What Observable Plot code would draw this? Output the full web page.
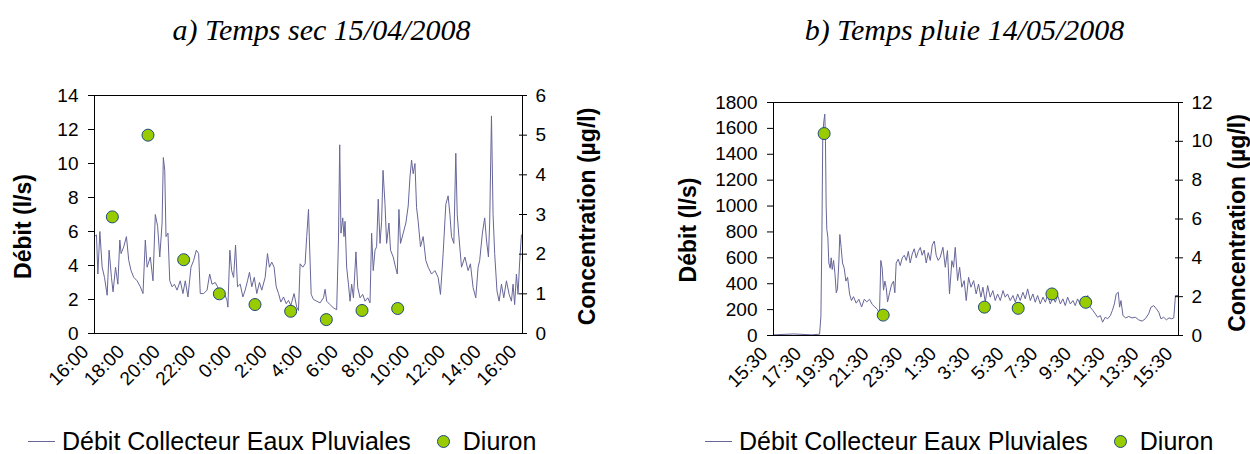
<!DOCTYPE html>
<html>
<head>
<meta charset="utf-8">
<script src="https://cdn.jsdelivr.net/npm/d3@7"></script>
<script src="https://cdn.jsdelivr.net/npm/@observablehq/plot@0.6"></script>
<style>
  body { margin: 0; background: #fff; }
  #wrap { position: relative; width: 1250px; height: 454px; overflow: hidden; }
  .panel { position: absolute; top: 0; width: 625px; height: 454px; }
  .title { position: absolute; top: 0; left: 0; width: 625px; height: 60px; line-height: 60px;
           font-family: "Liberation Serif", "Times New Roman", serif; font-style: italic; font-size: 30px;
           text-align: center; color: #000; }
  .chart { position: absolute; top: 60px; left: 0; }
  .legend { position: absolute; top: 427px; height: 28px; line-height: 28px; white-space: nowrap;
            font-family: "Liberation Sans", Arial, sans-serif; font-size: 25px; color: #000;
            display: flex; align-items: center; }
  .sw { display: inline-block; width: 27px; height: 0; border-top: 1.5px solid #666699; margin-right: 7px; }
  .dt { display: inline-block; width: 11px; height: 11px; border-radius: 50%; background: #99cc00;
        border: 1px solid #1f497d; margin: 0 13px 0 26px; }
</style>
</head>
<body>
<div id="wrap">
  <div class="panel" id="pa" style="left:0">
    <div class="title" style="transform:translateX(9px)">a) Temps sec 15/04/2008</div>
    <div class="chart" id="ca"></div>
    <div class="legend" style="left:28px"><span class="sw"></span><span>Débit Collecteur Eaux Pluviales</span><span class="dt"></span><span>Diuron</span></div>
  </div>
  <div class="panel" id="pb" style="left:625px">
    <div class="title" style="transform:translateX(27px)">b) Temps pluie 14/05/2008</div>
    <div class="chart" id="cb"></div>
    <div class="legend" style="left:80px"><span class="sw"></span><span>Débit Collecteur Eaux Pluviales</span><span class="dt"></span><span>Diuron</span></div>
  </div>
</div>
<script>
// ---------- Panel a: dry weather 15/04/2008 (hours since 16:00) ----------
const hoursA = [0,0.11,0.19,0.30,0.43,0.56,0.71,0.82,0.95,1.04,1.18,1.31,1.42,1.49,1.64,1.79,1.92,2.05,2.20,2.39,2.57,2.72,2.85,2.95,3.13,3.28,3.41,3.54,3.66,3.79,3.86,3.94,4.01,4.12,4.22,4.35,4.48,4.63,4.81,4.96,5.09,5.24,5.41,5.56,5.71,5.84,5.93,6.12,6.31,6.46,6.59,6.77,6.90,7.01,7.15,7.28,7.43,7.48,7.59,7.69,7.80,7.91,8.02,8.17,8.32,8.45,8.58,8.69,8.82,8.96,9.10,9.25,9.38,9.57,9.70,9.81,9.94,10.07,10.19,10.32,10.45,10.60,10.75,10.88,11.01,11.19,11.34,11.44,
  11.53,11.68,11.81,11.90,12.00,12.05,12.15,12.28,12.46,12.65,12.84,12.93,13.02,13.21,13.40,13.58,13.68,13.75,13.82,13.92,13.99,14.05,14.14,14.24,14.33,14.42,14.52,14.66,14.76,14.89,15.04,15.17,15.32,15.45,15.54,15.63,15.73,15.82,15.91,16.01,16.10,16.18,16.29,16.38,16.51,16.60,16.75,16.88,16.98,17.07,17.16,17.31,17.46,17.59,17.69,17.78,17.87,17.97,18.06,18.15,18.28,18.43,18.58,18.71,18.90,19.09,19.27,19.40,19.55,19.70,19.83,19.93,20.02,20.15,20.26,20.34,20.45,20.58,20.77,20.95,21.08,21.23,21.38,21.51,21.60,21.75,21.88,21.98,22.09,22.16,22.26,22.35,22.44,22.57,22.69,22.82,22.95,23.10,23.25,23.38,23.47,23.56,23.66,23.75,23.84,23.94];
const debitA = [5.7,5.8,3.5,6.0,3.9,3.3,2.25,4.9,3.3,2.45,3.9,2.9,5.5,4.7,5.1,5.7,4.3,3.7,3.3,3.1,2.75,2.35,5.5,3.9,4.5,3.1,7.0,6.3,4.5,6.5,10.35,9.6,5.7,5.9,3.1,2.75,2.9,2.55,3.1,2.35,3.1,2.15,3.9,4.3,4.9,4.7,2.35,2.35,2.55,3.5,2.9,3.0,2.75,2.35,2.15,2.35,1.95,1.55,4.9,3.7,3.3,5.2,2.75,2.9,2.15,2.55,3.1,3.6,2.75,3.3,2.35,3.0,2.55,3.3,4.7,3.9,4.2,3.9,2.75,2.35,1.85,2.15,1.75,1.95,1.65,2.35,1.55,1.35,
  4.1,3.9,4.1,5.7,7.3,5.5,2.3,2.0,1.9,1.8,2.1,2.6,1.9,1.7,1.5,1.4,5.5,11.1,5.9,6.8,5.7,6.6,3.9,2.9,1.9,2.9,2.1,4.8,2.7,2.1,2.3,1.9,2.1,1.8,5.9,3.7,4.9,5.1,7.9,5.3,6.6,9.6,7.6,5.3,6.5,4.9,4.5,3.9,3.5,7.3,5.3,5.9,6.5,7.5,9.2,10.2,9.4,10.0,7.4,6.6,5.1,5.7,4.3,3.9,3.5,3.7,3.3,2.3,4.7,7.6,8.1,7.0,5.7,5.3,10.6,7.0,5.5,3.9,4.5,3.7,4.1,2.7,2.1,3.9,4.3,5.9,6.8,5.5,4.5,6.5,12.8,7.0,4.7,2.5,1.9,2.9,2.1,3.1,2.3,1.9,2.9,1.7,3.5,2.3,4.2,5.8];
const sampleHoursA = [1,3,5,7,9,11,13,15,17];
const diuronA = [2.94,5.0,1.86,1.0,0.73,0.56,0.35,0.58,0.63];
const xLabelsA = ["16:00","18:00","20:00","22:00","0:00","2:00","4:00","6:00","8:00","10:00","12:00","14:00","16:00"];
const yLeftA = [0,2,4,6,8,10,12,14];
const yRightA = [0,1,2,3,4,5,6];

// ---------- Panel b: rain event 14/05/2008 (hours since 15:30) ----------
const hoursB = [0,1.19,2.27,2.73,2.81,2.87,2.92,2.98,3.04,3.08,3.12,3.16,3.22,3.28,3.36,3.42,3.48,3.56,3.64,3.72,3.79,3.87,3.93,4.01,4.09,4.19,4.29,4.39,4.51,4.62,4.74,4.90,5.06,5.22,5.38,5.53,5.69,5.85,6.01,6.17,6.28,6.36,6.44,6.52,6.60,6.68,6.76,6.88,6.99,7.11,7.19,7.27,7.39,7.51,7.63,7.75,7.87,7.99,8.10,8.22,8.34,8.46,8.58,8.70,8.81,8.93,9.05,9.17,9.29,9.41,9.53,9.64,9.76,
  9.88,10.04,10.18,10.31,10.43,10.57,10.67,10.77,10.91,11.03,11.16,11.30,11.42,11.56,11.70,11.86,12.01,12.15,12.29,12.41,12.55,12.69,12.84,13.00,13.14,13.28,13.44,13.60,13.73,13.87,14.03,14.19,14.33,14.47,14.62,14.78,14.92,15.06,15.22,15.37,15.51,15.65,15.81,15.97,16.11,16.24,16.40,16.56,16.70,16.84,17.00,17.15,17.29,17.43,17.59,17.75,17.88,18.02,18.18,18.34,18.48,18.62,18.77,18.93,19.07,19.21,19.37,19.50,19.66,19.80,19.96,20.08,20.20,20.31,20.43,20.51,20.59,20.71,20.87,21.05,21.24,21.44,21.64,21.84,22.03,22.23,22.37,22.53,22.69,22.83,22.96,23.12,23.28,23.44,23.60,23.72,23.82,23.95];
const debitB = [5,12,5,10,150,800,1550,1650,1710,1500,1000,820,760,560,520,600,510,580,480,330,360,560,780,680,560,520,420,450,320,270,300,250,280,220,280,260,280,240,220,200,160,580,520,350,420,370,260,330,390,420,330,560,590,540,600,620,580,650,560,630,670,600,650,680,620,660,560,640,580,700,730,620,580,
  604,681,527,656,321,578,527,681,424,527,373,424,270,450,373,424,321,398,296,373,257,386,296,347,270,321,270,347,296,321,270,309,257,321,270,334,283,360,270,321,257,309,244,296,257,309,244,296,257,309,244,283,231,296,244,270,231,283,239,278,231,309,219,193,167,141,154,103,141,129,154,193,244,321,334,219,270,154,136,147,136,141,121,111,129,167,219,231,206,180,129,141,121,136,129,136,309,309];
const sampleHoursB = [3.0,6.5,12.5,14.5,16.5,18.5];
const diuronB = [10.4,1.05,1.46,1.40,2.14,1.71];
const xLabelsB = ["15:30","17:30","19:30","21:30","23:30","1:30","3:30","5:30","7:30","9:30","11:30","13:30","15:30"];
const yLeftB = [0,200,400,600,800,1000,1200,1400,1600,1800];
const yRightB = [0,2,4,6,8,10,12];

const lineColor = "#666699";
const dotFill = "#99cc00";
const dotStroke = "#1f497d";
const font = "'Liberation Sans', Arial, sans-serif";

function panel({hours, debit, sampleHours, diuron, xLabels, yLeft, yRight, yMax, cMax, m, dxL, dyL, dxR, dyR}) {
  const k = yMax / cMax;
  const series = hours.map((t, i) => ({t, v: debit[i]}));
  const samples = sampleHours.map((t, i) => ({t, c: diuron[i]}));
  const xTicks = xLabels.map((_, i) => i * 2);
  const rightTicks = yRight.map(c => c * k);
  return Plot.plot({
    width: 625, height: 355,
    marginLeft: m[0], marginRight: m[1], marginTop: m[2], marginBottom: m[3],
    x: {domain: [0, 24]},
    y: {domain: [0, yMax]},
    style: {fontFamily: font, fontSize: "19px", color: "#000", background: "#fff", overflow: "visible"},
    marks: [
      Plot.line(series, {x: "t", y: "v", stroke: lineColor, strokeWidth: 1}),
      Plot.frame({stroke: "#000", strokeWidth: 1}),
      Plot.axisY(yLeft, {anchor: "left", tickSize: 6, tickPadding: 10, tickFormat: d => String(d), label: null}),
      Plot.axisY(rightTicks, {anchor: "right", tickSize: 4, dx: -4, tickFormat: () => "", label: null}),
      Plot.axisY(rightTicks, {anchor: "right", tickSize: 4, tickPadding: 9, tickFormat: d => String(Math.round(d / k)), label: null}),
      Plot.axisX(xTicks, {anchor: "bottom", tickSize: 0, tickPadding: 15, dx: -9, tickRotate: -45,
        tickFormat: d => xLabels[Math.round(d / 2)], label: null}),
      Plot.dot(samples, {x: "t", y: d => d.c * k, r: 6, fill: dotFill, stroke: dotStroke, strokeWidth: 1}),
      Plot.text(["Débit (l/s)"], {frameAnchor: "left", dx: dxL, dy: dyL, rotate: -90, textAnchor: "middle", lineAnchor: "middle", fontWeight: "bold", fontSize: 23}),
      Plot.text(["Concentration (µg/l)"], {frameAnchor: "right", dx: dxR, dy: dyR, rotate: -90, textAnchor: "middle", lineAnchor: "middle", fontWeight: "bold", fontSize: 23})
    ]
  });
}

document.getElementById("ca").append(panel({
  hours: hoursA, debit: debitA, sampleHours: sampleHoursA, diuron: diuronA, xLabels: xLabelsA,
  yLeft: yLeftA, yRight: yRightA, yMax: 14, cMax: 6, m: [94, 103, 35, 82], dxL: -71, dyL: 12, dxR: 65, dyR: 2
}));
document.getElementById("cb").append(panel({
  hours: hoursB, debit: debitB, sampleHours: sampleHoursB, diuron: diuronB, xLabels: xLabelsB,
  yLeft: yLeftB, yRight: yRightB, yMax: 1800, cMax: 12, m: [148, 72, 42, 80], dxL: -85, dyL: 11, dxR: 59, dyR: 4
}));
</script>
</body>
</html>
